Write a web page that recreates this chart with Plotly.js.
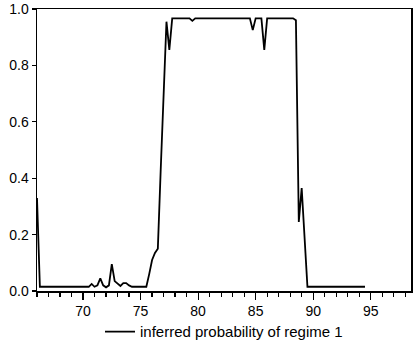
<!DOCTYPE html>
<html>
<head>
<meta charset="utf-8">
<script src="https://cdn.plot.ly/plotly-3.0.1.min.js"></script>
<style>html,body{margin:0;padding:0;background:#fff;}#chart{width:413px;height:356px;}</style>
</head>
<body>
<div id="chart"></div>
<script>
// quarterly observations starting 1966Q1 (x = 66.00, 66.25, ...)
const startYear = 66.0;
const step = 0.25;
const seriesName = "inferred probability of regime 1";
const prob = [
  0.33, 0.015, 0.015, 0.015,            // 66
  0.015, 0.015, 0.015, 0.015,           // 67
  0.015, 0.015, 0.015, 0.015,           // 68
  0.015, 0.015, 0.015, 0.015,           // 69
  0.015, 0.015, 0.015, 0.025,           // 70
  0.015, 0.02, 0.045, 0.02,             // 71
  0.013, 0.02, 0.095, 0.035,            // 72
  0.025, 0.018, 0.028, 0.028,           // 73
  0.02, 0.015, 0.015, 0.015,            // 74
  0.015, 0.015, 0.015, 0.06,            // 75
  0.11, 0.135, 0.15, 0.43,              // 76
  0.69, 0.955, 0.855, 0.967,            // 77
  0.967, 0.967, 0.967, 0.967,           // 78
  0.967, 0.967, 0.958, 0.967,           // 79
  0.967, 0.967, 0.967, 0.967,           // 80
  0.967, 0.967, 0.967, 0.967,           // 81
  0.967, 0.967, 0.967, 0.967,           // 82
  0.967, 0.967, 0.967, 0.967,           // 83
  0.967, 0.967, 0.967, 0.925,           // 84
  0.967, 0.967, 0.967, 0.855,           // 85
  0.967, 0.967, 0.967, 0.967,           // 86
  0.967, 0.967, 0.967, 0.967,           // 87
  0.967, 0.967, 0.96, 0.245,            // 88
  0.365, 0.19, 0.015, 0.015,            // 89
  0.015, 0.015, 0.015, 0.015,           // 90
  0.015, 0.015, 0.015, 0.015,           // 91
  0.015, 0.015, 0.015, 0.015,           // 92
  0.015, 0.015, 0.015, 0.015,           // 93
  0.015, 0.015, 0.015                   // 94
];
const xVals = prob.map((_, i) => startYear + i * step);
const xTickVals = [70, 75, 80, 85, 90, 95];
const yTickVals = [0, 0.2, 0.4, 0.6, 0.8, 1.0];

const font = {family: 'Arial, "Liberation Sans", sans-serif', size: 14, color: '#000'};
const legendFont = {family: 'Arial, "Liberation Sans", sans-serif', size: 15, color: '#000'};

Plotly.newPlot('chart', [{
  x: xVals, y: prob, type: 'scatter', mode: 'lines', name: seriesName,
  line: {color: '#000', width: 1.8}
}], {
  width: 413, height: 356,
  margin: {l: 37, r: 2, t: 9, b: 65},
  paper_bgcolor: '#fff', plot_bgcolor: '#fff',
  font: font,
  showlegend: true,
  legend: {orientation: 'h', x: 0.5, xanchor: 'center', y: -0.145, yanchor: 'middle',
           font: legendFont, bgcolor: 'rgba(0,0,0,0)'},
  xaxis: {
    range: [66, 98.5], showgrid: false, zeroline: false,
    showline: true, linecolor: '#000', linewidth: 1.5, mirror: true,
    tickvals: xTickVals, ticktext: xTickVals.map(String),
    ticks: 'outside', ticklen: 7, tickwidth: 1.2, tickcolor: '#000',
    minor: {dtick: 1, tick0: 0, ticks: 'outside', ticklen: 4, tickwidth: 1.2, tickcolor: '#000', showgrid: false},
    tickfont: font
  },
  yaxis: {
    range: [0, 1], showgrid: false, zeroline: false,
    showline: true, linecolor: '#000', linewidth: 1.5, mirror: true,
    tickvals: yTickVals, ticktext: yTickVals.map(v => v.toFixed(1)),
    ticks: 'outside', ticklen: 4, tickwidth: 1.2, tickcolor: '#000',
    tickfont: font
  }
}, {displayModeBar: false, staticPlot: true});
</script>
</body>
</html>
